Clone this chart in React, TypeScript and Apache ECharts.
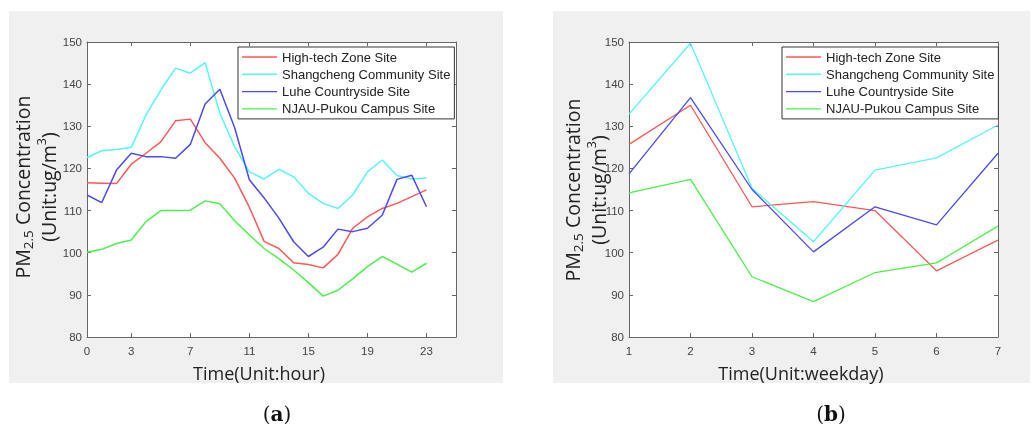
import React, { useEffect, useRef } from "react";
import * as echarts from "echarts";

const siteNames = [
  "High-tech Zone Site",
  "Shangcheng Community Site",
  "Luhe Countryside Site",
  "NJAU-Pukou Campus Site",
];
const siteColors = ["#ff5757", "#55f6f6", "#4a4af6", "#4cf04c"];

const hours = [0, 1, 2, 3, 4, 5, 6, 7, 8, 9, 10, 11, 12, 13, 14, 15, 16, 17, 18, 19, 20, 21, 22, 23];
const hourTicks = [0, 3, 7, 11, 15, 19, 23];
const hourHighTech = [116.6, 116.5, 116.4, 121.0, 123.6, 126.3, 131.3, 131.7, 126.1, 122.4, 117.7, 110.8, 102.7, 101.0, 97.6, 97.2, 96.4, 99.6, 105.8, 108.5, 110.5, 111.7, 113.3, 114.9];
const hourShangcheng = [122.6, 124.2, 124.5, 125.0, 132.7, 138.6, 143.8, 142.6, 145.1, 133.1, 125.2, 119.2, 117.5, 119.8, 118.0, 114.1, 111.7, 110.5, 113.7, 119.2, 122.0, 118.3, 117.5, 117.7];
const hourLuhe = [113.7, 111.9, 119.6, 123.6, 122.8, 122.8, 122.4, 125.7, 135.3, 138.8, 129.7, 117.3, 113.0, 108.2, 102.6, 99.1, 101.3, 105.6, 105.0, 105.8, 108.9, 117.4, 118.4, 110.9];
const hourNjau = [100.1, 100.8, 102.2, 103.0, 107.4, 110.0, 110.0, 110.1, 112.3, 111.6, 107.6, 104.2, 101.0, 98.6, 95.9, 92.9, 89.7, 91.1, 93.8, 96.7, 99.1, 97.3, 95.4, 97.5];

const weekdays = [1, 2, 3, 4, 5, 6, 7];
const dayHighTech = [125.7, 135.0, 110.9, 112.1, 110.0, 95.7, 103.0];
const dayShangcheng = [132.9, 149.7, 115.3, 102.6, 119.6, 122.5, 130.3];
const dayLuhe = [118.7, 136.8, 115.0, 100.2, 110.9, 106.6, 123.6];
const dayNjau = [114.2, 117.4, 94.3, 88.4, 95.3, 97.6, 106.3];

const hourSeries = [hourHighTech, hourShangcheng, hourLuhe, hourNjau];
const daySeries = [dayHighTech, dayShangcheng, dayLuhe, dayNjau];

const AXIS_COLOR = "#666";
const LABEL_COLOR = "#444";
const SANS = "'Liberation Sans', Arial, sans-serif";
const TITLE_FONT = "'Open Sans', 'Noto Sans', sans-serif";
// thin horizontal line icon (tiny corner dots keep the 35x14 box so the line sits in the middle)
const LINE_ICON = "path://M0,0 h0.05 v0.05 h-0.05 Z M0,6.3 H35 V7.7 H0 Z M34.95,13.95 h0.05 v0.05 h-0.05 Z";

function makeX(gridIndex: number, position: "bottom" | "top", min: number, max: number, ticks: number[], showLabels: boolean) {
  return {
    type: "value",
    gridIndex,
    position,
    min,
    max,
    axisLine: { show: true, onZero: false, lineStyle: { color: AXIS_COLOR, width: 1 } },
    axisTick: { show: true, inside: true, length: 4, customValues: ticks, lineStyle: { color: AXIS_COLOR } },
    axisLabel: {
      show: showLabels,
      customValues: ticks,
      margin: 8,
      color: LABEL_COLOR,
      fontSize: 11.5,
      fontFamily: SANS,
    },
    splitLine: { show: false },
  };
}

function makeY(gridIndex: number, position: "left" | "right", showLabels: boolean) {
  return {
    type: "value",
    gridIndex,
    position,
    min: 80,
    max: 150,
    interval: 10,
    axisLine: { show: true, onZero: false, lineStyle: { color: AXIS_COLOR, width: 1 } },
    axisTick: { show: true, inside: true, length: 4, lineStyle: { color: AXIS_COLOR } },
    axisLabel: { show: showLabels, margin: 5, color: LABEL_COLOR, fontSize: 11.5, fontFamily: SANS },
    splitLine: { show: false },
  };
}

function yTitle(x1: number, x2: number, y: number) {
  return [
    {
      type: "text",
      x: x1,
      y,
      rotation: Math.PI / 2,
      style: {
        text: "PM{sub|2.5} Concentration",
        align: "center",
        verticalAlign: "middle",
        fill: "#222",
        font: `19.5px ${TITLE_FONT}`,
        lineHeight: 26,
        rich: {
          sub: { fontSize: 13.5, lineHeight: 13, verticalAlign: "bottom", fill: "#222", fontFamily: TITLE_FONT },
        },
      },
    },
    {
      type: "text",
      x: x2,
      y,
      rotation: Math.PI / 2,
      style: {
        text: "(Unit:ug/m{sup|3})",
        align: "center",
        verticalAlign: "middle",
        fill: "#222",
        font: `19.5px ${TITLE_FONT}`,
        lineHeight: 26,
        rich: {
          sup: { fontSize: 12.5, lineHeight: 13, verticalAlign: "top", fill: "#222", fontFamily: TITLE_FONT },
        },
      },
    },
  ];
}

function caption(letter: string, x: number, y: number) {
  return {
    type: "text",
    x,
    y,
    style: {
      text: `{p|(}{b|${letter}}{p|)}`,
      align: "center",
      verticalAlign: "middle",
      rich: {
        p: { fontSize: 20, fontFamily: "'DejaVu Serif', 'Liberation Serif', serif", fill: "#111" },
        b: { fontSize: 20, fontWeight: "bold", fontFamily: "'DejaVu Serif', 'Liberation Serif', serif", fill: "#111" },
      },
    },
  };
}

function legendFor(left: number) {
  return {
    left,
    top: 47,
    orient: "vertical",
    data: siteNames,
    icon: LINE_ICON,
    backgroundColor: "#fff",
    borderColor: "#333",
    borderWidth: 1,
    borderRadius: 0,
    padding: [3, 4, 3, 4],
    itemWidth: 35,
    itemHeight: 14,
    itemGap: 3.3,
    itemStyle: { borderWidth: 0 },
    selectedMode: false,
    textStyle: { fontSize: 13, fontFamily: SANS, color: "#222" },
  };
}

export default function App() {
  const ref = useRef<HTMLDivElement>(null);

  useEffect(() => {
    document.body.style.margin = "0";
    document.body.style.background = "#fff";
    const chart = echarts.init(ref.current!, null, { renderer: "svg" });

    const series: any[] = [];
    hourSeries.forEach((vals, i) => {
      series.push({
        type: "line",
        name: siteNames[i],
        xAxisIndex: 0,
        yAxisIndex: 0,
        symbol: "none",
        color: siteColors[i],
        lineStyle: { width: 1.5, color: siteColors[i] },
        data: hours.map((h, k) => [h, vals[k]]),
      });
    });
    daySeries.forEach((vals, i) => {
      series.push({
        type: "line",
        name: siteNames[i],
        xAxisIndex: 2,
        yAxisIndex: 2,
        symbol: "none",
        color: siteColors[i],
        lineStyle: { width: 1.3, color: siteColors[i] },
        data: weekdays.map((d, k) => [d, vals[k]]),
      });
    });

    const option: any = {
      animation: false,
      grid: [
        { left: 87, top: 42, width: 369, height: 295, show: true, backgroundColor: "#fff", borderWidth: 0 },
        { left: 629, top: 42, width: 369, height: 295, show: true, backgroundColor: "#fff", borderWidth: 0 },
      ],
      xAxis: [
        makeX(0, "bottom", 0, 25, hourTicks, true),
        makeX(0, "top", 0, 25, hourTicks, false),
        makeX(1, "bottom", 1, 7, weekdays, true),
        makeX(1, "top", 1, 7, weekdays, false),
      ],
      yAxis: [
        makeY(0, "left", true),
        makeY(0, "right", false),
        makeY(1, "left", true),
        makeY(1, "right", false),
      ],
      legend: [legendFor(238), legendFor(782)],
      graphic: [
        { type: "rect", z: -10, shape: { x: 9, y: 11, width: 494, height: 372 }, style: { fill: "#f0f0f0" } },
        { type: "rect", z: -10, shape: { x: 553, y: 11, width: 477, height: 372 }, style: { fill: "#f0f0f0" } },
        ...yTitle(22, 48, 187),
        ...yTitle(572, 598, 190),
        {
          type: "text",
          x: 259,
          y: 373,
          style: { text: "Time(Unit:hour)", align: "center", verticalAlign: "middle", fill: "#222", font: `18px ${TITLE_FONT}` },
        },
        {
          type: "text",
          x: 801,
          y: 373,
          style: { text: "Time(Unit:weekday)", align: "center", verticalAlign: "middle", fill: "#222", font: `18px ${TITLE_FONT}` },
        },
        caption("a", 277, 414),
        caption("b", 831, 414),
      ],
      series,
    };
    chart.setOption(option);
    return () => chart.dispose();
  }, []);

  return <div ref={ref} style={{ position: "fixed", left: 0, top: 0, width: 1036, height: 429 }} />;
}
